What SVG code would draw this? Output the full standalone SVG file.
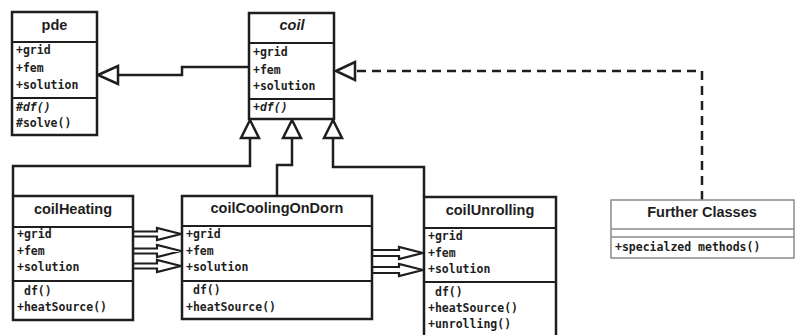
<svg xmlns="http://www.w3.org/2000/svg" width="797" height="335" viewBox="0 0 797 335">
  <style>
    .box { fill: #fff; stroke: #1e1e1e; stroke-width: 2.5; }
    .div { stroke: #1e1e1e; stroke-width: 2.2; fill: none; }
    .title { font-family: "Liberation Sans", Arial, sans-serif; font-weight: bold; font-size: 14.5px; fill: #1e1e1e; text-anchor: middle; }
    .mem { font-family: "DejaVu Sans Mono", "Liberation Mono", monospace; font-weight: bold; font-size: 11.5px; fill: #1e1e1e; }
    .it { font-style: italic; }
    .line { fill: none; stroke: #1e1e1e; stroke-width: 2.5; }
    .tri { fill: #fff; stroke: #1e1e1e; stroke-width: 2.5; stroke-linejoin: miter; }
    .dash { fill: none; stroke: #1e1e1e; stroke-width: 2.5; stroke-dasharray: 9 6; }
    .flow { fill: #fff; stroke: #1e1e1e; stroke-width: 2.2; stroke-linejoin: miter; }
    .gbox { fill: #fff; stroke: #8a8a8a; stroke-width: 1.5; }
    .gdiv { stroke: #8a8a8a; stroke-width: 1.5; fill: none; }
  </style>

  <!-- connectors -->
  <g id="connectors">
    <!-- coil generalises pde -->
    <path class="line" d="M249 67 H182 V75 H118"/>
    <polygon class="tri" points="98,75 118,66 118,84"/>

    <!-- inheritance from coil -->
    <path class="line" d="M250 138 V166 H13 V196"/>
    <polygon class="tri" points="250,120 241,138 259,138"/>
    <path class="line" d="M292 138 V165 H277 V196"/>
    <polygon class="tri" points="292,120 283,138 301,138"/>
    <path class="line" d="M333 138 V167 H424 V197"/>
    <polygon class="tri" points="333,120 324,138 342,138"/>

    <!-- realisation from further classes -->
    <path class="dash" d="M702 200 V71 H355"/>
    <polygon class="tri" points="336,71 355,62 355,80"/>

    <!-- data flow coilHeating -> coilCoolingOnDorn -->
    <polygon class="flow" points="133,231.5 157,231.5 157,228 181,234 157,240 157,236.5 133,236.5"/>
    <polygon class="flow" points="133,248.5 157,248.5 157,245 181,251 157,257 157,253.5 133,253.5"/>
    <polygon class="flow" points="133,263.5 157,263.5 157,260 181,266 157,272 157,268.5 133,268.5"/>

    <!-- data flow coilCoolingOnDorn -> coilUnrolling -->
    <polygon class="flow" points="372,250 399,250 399,247 423,253 399,259 399,256 372,256"/>
    <polygon class="flow" points="372,267 399,267 399,264 423,270 399,276 399,273 372,273"/>
  </g>

  <g id="pde">
    <rect class="box" x="12" y="12" width="85" height="123"/>
    <line class="div" x1="12" y1="42" x2="97" y2="42"/>
    <line class="div" x1="12" y1="98" x2="97" y2="98"/>
    <text class="title" x="54.5" y="30">pde</text>
    <text class="mem" x="16" y="54">+grid</text>
    <text class="mem" x="16" y="72">+fem</text>
    <text class="mem" x="16" y="89">+solution</text>
    <text class="mem it" x="16" y="111">#df()</text>
    <text class="mem" x="16" y="127">#solve()</text>
  </g>

  <g id="coil">
    <rect class="box" x="249" y="13" width="85" height="106"/>
    <line class="div" x1="249" y1="43" x2="334" y2="43"/>
    <line class="div" x1="249" y1="99" x2="334" y2="99"/>
    <text class="title it" x="292" y="30">coil</text>
    <text class="mem" x="253" y="56">+grid</text>
    <text class="mem" x="253" y="74">+fem</text>
    <text class="mem" x="253" y="90">+solution</text>
    <text class="mem it" x="253" y="111">+df()</text>
  </g>

  <g id="coilHeating">
    <rect class="box" x="13" y="196" width="120" height="124"/>
    <line class="div" x1="13" y1="227" x2="133" y2="227"/>
    <line class="div" x1="13" y1="281" x2="133" y2="281"/>
    <text class="title" x="73" y="214">coilHeating</text>
    <text class="mem" x="17" y="238">+grid</text>
    <text class="mem" x="17" y="255">+fem</text>
    <text class="mem" x="17" y="271">+solution</text>
    <text class="mem" x="24" y="295">df()</text>
    <text class="mem" x="17" y="311">+heatSource()</text>
  </g>

  <g id="coilCoolingOnDorn">
    <rect class="box" x="182" y="196" width="190" height="123"/>
    <line class="div" x1="182" y1="226" x2="372" y2="226"/>
    <line class="div" x1="182" y1="281" x2="372" y2="281"/>
    <text class="title" x="277" y="213">coilCoolingOnDorn</text>
    <text class="mem" x="186" y="238">+grid</text>
    <text class="mem" x="186" y="255">+fem</text>
    <text class="mem" x="186" y="271">+solution</text>
    <text class="mem" x="193" y="294">df()</text>
    <text class="mem" x="186" y="311">+heatSource()</text>
  </g>

  <g id="coilUnrolling">
    <rect class="box" x="424" y="197" width="132" height="142"/>
    <line class="div" x1="424" y1="228" x2="556" y2="228"/>
    <line class="div" x1="424" y1="282" x2="556" y2="282"/>
    <text class="title" x="490" y="215">coilUnrolling</text>
    <text class="mem" x="428" y="240">+grid</text>
    <text class="mem" x="428" y="257">+fem</text>
    <text class="mem" x="428" y="273">+solution</text>
    <text class="mem" x="435" y="296">df()</text>
    <text class="mem" x="428" y="312">+heatSource()</text>
    <text class="mem" x="428" y="328">+unrolling()</text>
  </g>

  <g id="furtherClasses">
    <rect class="gbox" x="611" y="200" width="183" height="58"/>
    <line class="gdiv" x1="611" y1="229" x2="794" y2="229"/>
    <line class="gdiv" x1="611" y1="237" x2="794" y2="237"/>
    <text class="title" x="702" y="217">Further Classes</text>
    <text class="mem" x="615" y="251">+specialzed methods()</text>
  </g>
</svg>
